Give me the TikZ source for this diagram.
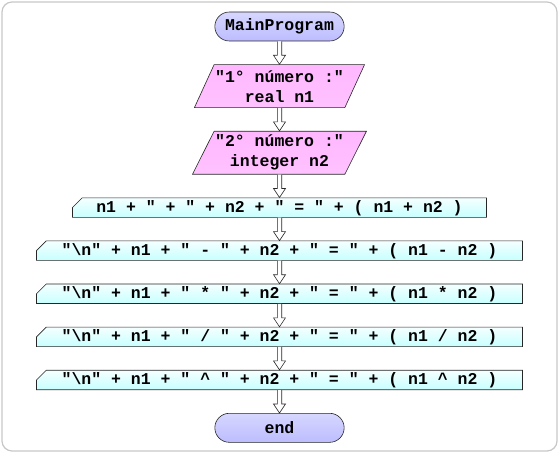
\documentclass[tikz,border=0pt]{standalone}
\usepackage{fontspec}
\setmonofont{Liberation Mono}
\usetikzlibrary{positioning,shapes.geometric,shapes.misc,calc}

\newcommand\bsn{"\textbackslash n"}

\begin{document}
\begin{tikzpicture}
[x=1pt,y=1pt,node distance=23pt,semithick,font=\ttfamily\bfseries\fontsize{16.5}{20}\selectfont]

  \tikzstyle{terminal}=[draw=black!85,rounded rectangle,minimum width=136pt,minimum height=29pt,
                        top color=blue!16,middle color=blue!2,bottom color=blue!26]
  \tikzstyle{iobox}=[draw=black!85,trapezium,trapezium left angle=60,trapezium right angle=120,
                  trapezium stretches body,minimum width=150pt,minimum height=43pt,inner sep=1pt,align=center,
                  top color=magenta!28,middle color=magenta!4,bottom color=magenta!24]
  \tikzstyle{outbox}=[draw=black!85,chamfered rectangle,chamfered rectangle corners=north west,
                   chamfered rectangle xsep=5pt,chamfered rectangle ysep=5pt,inner sep=0pt,
                   text height=9.5pt,text depth=0pt,
                   minimum width=486pt,minimum height=19.5pt,top color=cyan!4,bottom color=cyan!22]
  \tikzstyle{hollow}=[draw=black!85,fill=white,
    to path={let \p1=(\tikztostart),\p2=(\tikztotarget) in
      (\x1-2.2pt,\y1) -- (\x1-2.2pt,\y2+9pt) -- (\x1-6pt,\y2+9pt) -- (\x1,\y2)
      -- (\x1+6pt,\y2+9pt) -- (\x1+2.2pt,\y2+9pt) -- (\x1+2.2pt,\y1)}]

  \useasboundingbox (0,0) rectangle (560,-454);
  \draw[black!22,line width=1.2pt,rounded corners=10pt] (2,-2) rectangle (557,-451);

  \node[terminal] (main) at (279.5,-26.5) {MainProgram};
  \node[iobox]    (in1) [below=of main] {"1° número :"\\real n1};
  \node[iobox]    (in2) [below=of in1]  {"2° número :"\\integer n2};
  \node[outbox,minimum width=414pt] (sum) [below=of in2] {n1 + " + " + n2 + " = " + ( n1 + n2 )};
  \node[outbox]   (dif) [below=of sum]  {\bsn{} + n1 + " - " + n2 + " = " + ( n1 - n2 )};
  \node[outbox]   (mul) [below=of dif]  {\bsn{} + n1 + " * " + n2 + " = " + ( n1 * n2 )};
  \node[outbox]   (quo) [below=of mul]  {\bsn{} + n1 + " / " + n2 + " = " + ( n1 / n2 )};
  \node[outbox]   (pow) [below=of quo]  {\bsn{} + n1 + " \textasciicircum{} " + n2 + " = " + ( n1 \textasciicircum{} n2 )};
  \node[terminal] (end) [below=of pow]  {end};

  \foreach \a/\b in {main/in1,in1/in2,in2/sum,sum/dif,dif/mul,mul/quo,quo/pow,pow/end}
    \draw[hollow] (\a.south) to (\b.north);
\end{tikzpicture}
\end{document}
